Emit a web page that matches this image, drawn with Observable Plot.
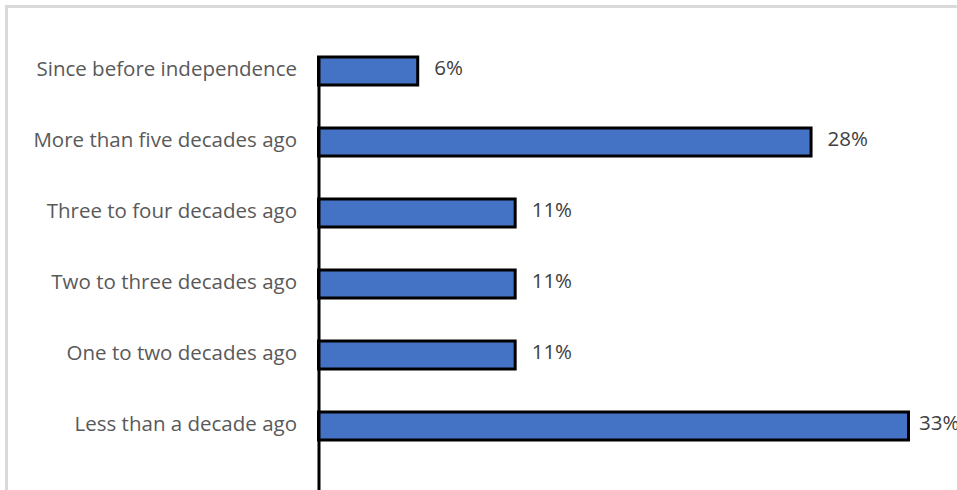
<!DOCTYPE html>
<html>
<head>
<meta charset="utf-8">
<script src="https://cdn.jsdelivr.net/npm/d3@7"></script>
<script src="https://cdn.jsdelivr.net/npm/@observablehq/plot@0.6"></script>
<style>
  html, body { margin: 0; padding: 0; background: #fff; overflow: hidden; }
  #wrap { position: relative; width: 957px; height: 490px; }
  #border { position: absolute; left: 5px; top: 5px; width: 1000px; height: 1000px;
    border-left: 3px solid #d9d9d9; border-top: 3px solid #d9d9d9; box-sizing: border-box; pointer-events: none; }
  #chart { position: absolute; left: 0; top: 0; }
  #chart svg { font-family: "Open Sans", sans-serif; }
</style>
</head>
<body>
<div id="wrap"><div id="chart"></div><div id="border"></div></div>
<script>
const categories = [
  "Since before independence",
  "More than five decades ago",
  "Three to four decades ago",
  "Two to three decades ago",
  "One to two decades ago",
  "Less than a decade ago"
];
const values = [5.6, 27.8, 11.1, 11.1, 11.1, 33.3];
const labels = ["6%", "28%", "11%", "11%", "11%", "33%"];

const data = categories.map((c, i) => ({category: c, value: values[i], label: labels[i]}));
const maxValue = d3.max(values);

const chart = Plot.plot({
  width: 957,
  height: 490,
  marginLeft: 318.5,
  marginRight: 48.5,
  marginTop: 57,
  marginBottom: 0,
  style: {fontFamily: "'Open Sans', sans-serif", background: "transparent"},
  x: {domain: [0, 33.3], axis: null},
  y: {domain: categories, range: [35.1, 462.3], paddingInner: 0.6, paddingOuter: 0.3, label: null},
  marks: [
    Plot.axisY({tickSize: 0, tickPadding: 22, fontSize: 20.5, color: "#595959", dy: -2}),
    Plot.barX(data, {x: "value", y: "category", fill: "#4472C4", stroke: "#000", strokeWidth: 3}),
    Plot.ruleX([0], {stroke: "#000", strokeWidth: 3}),
    Plot.text(data.filter(d => d.value < maxValue), {x: "value", y: "category", text: "label", textAnchor: "start", dx: 16, dy: -3, fontSize: 20.5, fill: "#404040"}),
    Plot.text(data.filter(d => d.value === maxValue), {x: "value", y: "category", text: "label", textAnchor: "start", dx: 10, dy: -3, fontSize: 20.5, fill: "#404040"})
  ]
});
document.getElementById("chart").appendChild(chart);
</script>
</body>
</html>
